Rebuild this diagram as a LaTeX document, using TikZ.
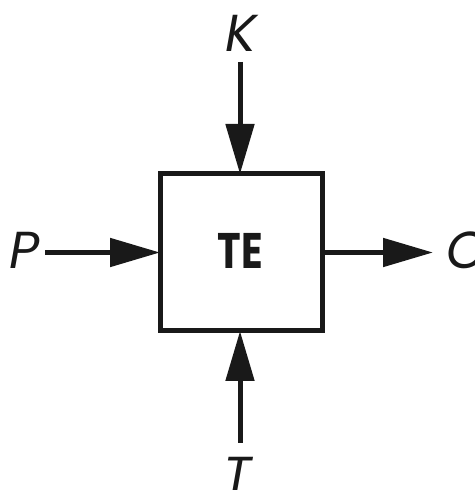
\documentclass[tikz,border=0pt]{standalone}
\usepackage{fontspec}
\setmainfont{Poppins}
\usetikzlibrary{arrows.meta}
\begin{document}
\begin{tikzpicture}[x=1pt,y=1pt,
  boxst/.style={draw=black!90,line width=5pt,minimum width=162pt,minimum height=157pt,inner sep=0pt,outer sep=0pt},
  flow/.style={line width=5pt,draw=black!90,-{Triangle[length=50pt,width=28pt]}},
  lab/.style={font=\fontsize{52}{52}\selectfont\itshape,inner sep=0pt,text=black!90},
  title/.style={font=\fontsize{50}{50}\selectfont\bfseries,inner sep=0pt,text=black!90}]
\useasboundingbox (0,0) rectangle (474,490);
\node[boxst] (te) at (241,237.5) {};
\node[title,xscale=0.8] (tet) at (240,239) {TE};
\coordinate (ks) at (240,428);
\coordinate (ts) at (240,47);
\coordinate (ps) at (45,237.5);
\coordinate (ce) at (433,237.5);
\draw[flow] (ks) -- (te.north -| ks);
\draw[flow] (ts) -- (te.south -| ts);
\draw[flow] (ps) -- (te.west);
\draw[flow] (te.east) -- (ce);
\node[lab] (k) at (241,457) {K};
\node[lab] (p) at (25,240) {P};
\node[lab,anchor=west] (c) at (446,240) {C};
\node[lab] (t) at (238,15) {T};
\end{tikzpicture}
\end{document}
